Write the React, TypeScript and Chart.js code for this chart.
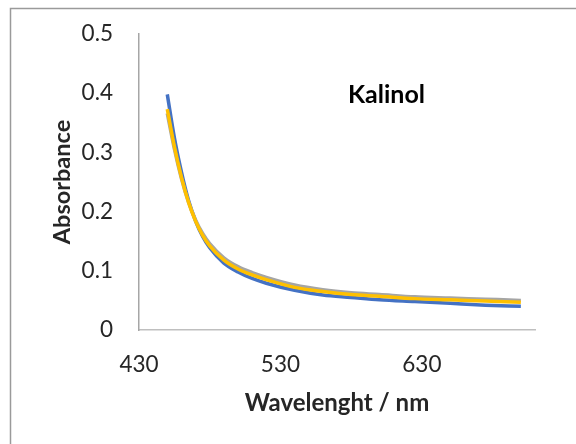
import React, { useEffect, useRef } from "react";
import { Chart, registerables } from "chart.js";

Chart.register(...registerables);

const wavelengths = [450, 455, 460, 465, 470, 475, 480, 490, 500, 510, 520, 540, 560, 580, 600, 625, 650, 675, 700];
const blueSeries = [0.398, 0.325, 0.267, 0.219, 0.184, 0.158, 0.139, 0.113, 0.098, 0.087, 0.079, 0.067, 0.059, 0.055, 0.051, 0.048, 0.045, 0.042, 0.040];
const graySeries = [0.366, 0.306, 0.256, 0.216, 0.186, 0.163, 0.146, 0.122, 0.107, 0.097, 0.089, 0.076, 0.068, 0.063, 0.060, 0.056, 0.054, 0.052, 0.050];
const yellowSeries = [0.373, 0.310, 0.258, 0.216, 0.184, 0.160, 0.142, 0.118, 0.103, 0.093, 0.085, 0.072, 0.065, 0.060, 0.057, 0.053, 0.051, 0.049, 0.047];
const xTickValues = [430, 530, 630];
const chartLabel = "Kalinol";

const FONT = "Lato, 'Open Sans', sans-serif";

const toPoints = (ys: number[]) => ys.map((y, i) => ({ x: wavelengths[i], y }));

export default function App() {
  const ref = useRef<HTMLCanvasElement | null>(null);
  useEffect(() => {
    if (!ref.current) return;
    const framePlugin = {
      id: "frame",
      beforeDraw(chart: any) {
        const ctx = chart.ctx;
        ctx.save();
        ctx.fillStyle = "#ffffff";
        ctx.fillRect(0, 0, chart.width, chart.height);
        ctx.strokeStyle = "#9a9a9a";
        ctx.lineWidth = 1.5;
        ctx.beginPath();
        ctx.moveTo(10.5, chart.height + 5);
        ctx.lineTo(10.5, 8.5);
        ctx.lineTo(chart.width + 5, 8.5);
        ctx.stroke();
        ctx.restore();
      },
      afterDraw(chart: any) {
        const ctx = chart.ctx;
        const xs = chart.scales.x;
        const ys = chart.scales.y;
        ctx.save();
        ctx.fillStyle = "#000000";
        ctx.font = `bold 25px ${FONT}`;
        ctx.textAlign = "center";
        ctx.textBaseline = "middle";
        ctx.fillText(chartLabel, xs.getPixelForValue(605), ys.getPixelForValue(0.397));
        ctx.restore();
      },
    };
    const chart = new Chart(ref.current, {
      type: "line",
      data: {
        datasets: [
          { label: "A", data: toPoints(blueSeries), borderColor: "#4472C4", order: 2 },
          { label: "C", data: toPoints(graySeries), borderColor: "#A5A5A5", order: 1 },
          { label: "D", data: toPoints(yellowSeries), borderColor: "#FFC000", order: 0 },
        ].map((d) => ({
          ...d,
          borderWidth: 3.5,
          pointRadius: 0,
          fill: false,
          cubicInterpolationMode: "monotone" as const,
          borderCapStyle: "butt" as const,
        })),
      },
      options: {
        responsive: false,
        animation: false,
        events: [],
        layout: { padding: { left: 48, top: 34, right: 41, bottom: 26 } },
        plugins: { legend: { display: false }, tooltip: { enabled: false }, title: { display: false } },
        scales: {
          x: {
            type: "linear",
            min: 430,
            max: 710,
            afterBuildTicks: (s: any) => {
              s.ticks = xTickValues.map((v) => ({ value: v }));
            },
            afterFit: (s: any) => {
              s.height = 88;
            },
            grid: { display: false, drawTicks: false },
            border: { display: true, color: "#BFBFBF", width: 1.5 },
            ticks: { color: "#262626", font: { family: FONT, size: 22.5 }, padding: 21, maxRotation: 0, autoSkip: false },
            title: { display: true, text: "Wavelenght / nm", color: "#262626", font: { family: FONT, size: 24, weight: "bold" }, padding: { top: 0, bottom: 0 } },
          },
          y: {
            min: 0,
            max: 0.5,
            afterFit: (s: any) => {
              s.width = 91;
              s.paddingTop = 10;
              s.paddingBottom = 10;
            },
            grid: { display: false, drawTicks: false },
            border: { display: true, color: "#A6A6A6", width: 1.5 },
            ticks: { stepSize: 0.1, color: "#262626", font: { family: FONT, size: 22.5 }, padding: 26 },
            title: { display: true, text: "Absorbance", color: "#262626", font: { family: FONT, size: 23.5, weight: "bold" }, padding: { top: 0, bottom: 0 } },
          },
        },
      },
      plugins: [framePlugin],
    } as any);
    return () => chart.destroy();
  }, []);
  return (
    <div style={{ position: "fixed", left: 0, top: 0, width: 576, height: 444, background: "#fff" }}>
      <canvas ref={ref} width={576} height={444} style={{ display: "block", width: 576, height: 444 }} />
    </div>
  );
}
